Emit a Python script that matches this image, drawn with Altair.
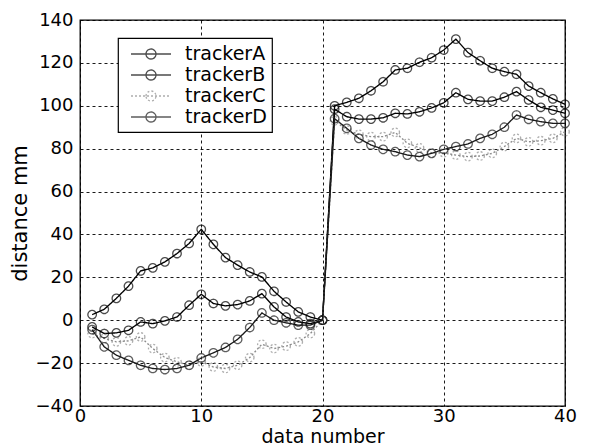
import altair as alt
import pandas as pd

data_number = list(range(1, 41))
tracker_names = ["trackerA", "trackerB", "trackerC", "trackerD"]

tracker_a = [2.6, 5.1, 10.2, 15.9, 23.0, 24.4, 27.2, 31.1, 35.8, 42.4,
             35.4, 29.2, 25.7, 22.5, 20.2, 13.5, 8.5, 3.9, 1.5, 0.0,
             100.0, 101.6, 103.5, 107.0, 111.2, 116.7, 117.5, 120.3, 122.4, 126.0,
             131.1, 124.8, 121.0, 117.5, 115.9, 114.7, 109.2, 106.1, 103.2, 100.7]
tracker_b = [-3.1, -6.2, -5.9, -4.7, -0.8, -1.6, -0.3, 1.5, 7.0, 12.1,
             7.8, 6.7, 7.3, 9.0, 12.4, 6.2, 1.5, -0.8, -1.6, 0.0,
             98.4, 94.9, 93.8, 93.8, 94.4, 96.5, 96.2, 97.2, 99.0, 101.4,
             106.1, 103.0, 102.2, 102.2, 104.0, 106.6, 102.7, 99.3, 98.0, 96.5]
tracker_c = [-6.2, -8.5, -10.1, -9.6, -7.8, -13.2, -17.4, -19.4, -21.0, -19.4,
             -21.8, -22.5, -21.0, -17.4, -11.2, -13.2, -12.1, -10.1, -6.2, 0.0,
             93.0, 88.7, 86.7, 85.6, 85.6, 87.6, 82.5, 80.4, 78.0, 78.1,
             77.0, 76.3, 76.6, 77.8, 81.0, 84.8, 83.2, 83.7, 84.8, 87.9]
tracker_d = [-4.4, -12.4, -16.3, -18.7, -21.0, -22.5, -23.0, -22.5, -21.0, -17.6,
             -15.2, -12.7, -8.9, -3.4, 3.4, 0.0, -1.2, -2.3, -2.3, 0.0,
             94.0, 89.5, 84.8, 81.7, 79.7, 78.6, 77.0, 76.3, 77.8, 79.7,
             81.0, 82.2, 84.8, 86.7, 90.0, 95.7, 93.7, 92.6, 91.8, 91.8]

x_ticks = [0, 10, 20, 30, 40]
y_ticks = [-40, -20, 0, 20, 40, 60, 80, 100, 120, 140]

rows = []
for name, vals in zip(tracker_names, [tracker_a, tracker_b, tracker_c, tracker_d]):
    for x, v in zip(data_number, vals):
        rows.append({"n": x, "d": v, "tracker": name})
df = pd.DataFrame(rows)

FONT = "DejaVu Sans"
colors = ["#000000", "#000000", "#8c8c8c", "#1a1a1a"]
dashes = [[1, 0], [1, 0], [2, 2], [1, 0]]

legend = alt.Legend(
    title=None, orient="none", legendX=38, legendY=18,
    symbolType="M-0.3,0L3.7,0M1.2,0A0.5,0.5,0,1,1,2.2,0A0.5,0.5,0,1,1,1.2,0",
    symbolSize=400, symbolStrokeWidth=1.3, symbolFillColor="transparent",
    labelFont=FONT, labelFontSize=19, labelColor="black", labelOffset=40,
    fillColor="white", strokeColor="black", padding=5, rowPadding=0,
)

x = alt.X("n:Q", title="data number",
          scale=alt.Scale(domain=[0, 40], nice=False),
          axis=alt.Axis(values=x_ticks, format="d"))
y = alt.Y("d:Q", title="distance mm",
          scale=alt.Scale(domain=[-40, 140], nice=False),
          axis=alt.Axis(values=y_ticks, format="d"))
color = alt.Color("tracker:N", scale=alt.Scale(domain=tracker_names, range=colors), legend=legend)
dash = alt.StrokeDash("tracker:N", scale=alt.Scale(domain=tracker_names, range=dashes), legend=legend)

base = alt.Chart(df)
lines = base.mark_line(strokeWidth=1.35).encode(x=x, y=y, color=color, strokeDash=dash, detail="tracker:N")
points = base.mark_point(shape="circle", filled=False, size=72, strokeWidth=1.3).encode(
    x=x, y=y, color=color, strokeDash=dash)

chart = (lines + points).properties(
    width=485, height=386,
    padding={"left": 72, "top": 12, "right": 17, "bottom": 40},
    autosize=alt.AutoSizeParams(type="none"),
).configure_view(
    stroke="black", strokeWidth=1.3
).configure_legend(
    strokeWidth=1.2
).configure_axis(
    labelFont=FONT, labelFontSize=18, labelColor="black",
    titleFont=FONT, titleFontWeight="normal", titleColor="black",
    grid=True, gridColor="black", gridDash=[3, 3], gridOpacity=1, gridWidth=0.9,
    domain=False, ticks=False,
).configure_axisX(
    labelPadding=1, titlePadding=2, labelFlush=False, titleFontSize=19
).configure_axisY(
    labelPadding=7, titlePadding=5, titleFontSize=21
)

chart.save("out.html", embed_options={"renderer": "svg", "actions": False})
